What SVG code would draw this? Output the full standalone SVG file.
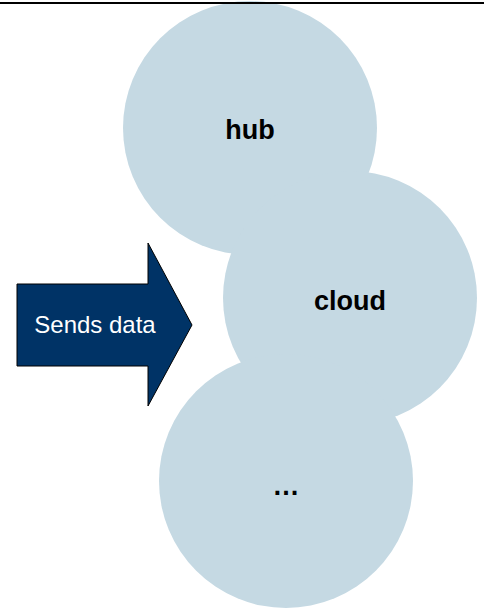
<svg xmlns="http://www.w3.org/2000/svg" width="484" height="609" viewBox="0 0 484 609">
<style>
.c{fill:#c5d9e3;stroke:none}
.lbl{font-family:"Liberation Sans",Arial,sans-serif;font-weight:bold;font-size:27px;fill:#000;text-anchor:middle}
.arr{fill:#003366;stroke:#000;stroke-width:1}
.at{font-family:"Liberation Sans",Arial,sans-serif;font-size:24px;fill:#fff;text-anchor:middle}
</style>
<rect width="484" height="609" fill="#fff"/>
<g id="hub"><circle class="c" cx="250" cy="128" r="127"/><text class="lbl" x="250" y="139">hub</text></g>
<g id="cloud"><circle class="c" cx="350" cy="298" r="127"/><text class="lbl" x="350" y="310">cloud</text></g>
<g id="more"><circle class="c" cx="286" cy="481" r="127"/><text class="lbl" x="286" y="495">…</text></g>
<g id="connectors">
<g id="sends-data"><path class="arr" d="M17 284 H148 V243 L192 325 L148 406 V366 H17 Z"/><text class="at" x="95" y="333">Sends data</text></g>
</g>
<line x1="0" y1="3" x2="484" y2="3" stroke="#000" stroke-width="2"/>
</svg>
